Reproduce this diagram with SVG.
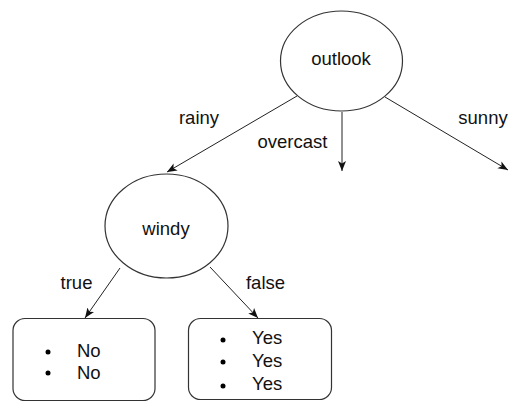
<svg xmlns="http://www.w3.org/2000/svg" width="509" height="402" viewBox="0 0 509 402">
<style>
.n{fill:#fff;stroke:#333;stroke-width:1.2}
.e{fill:none;stroke:#222;stroke-width:1}
text{font-family:"Liberation Sans",Arial,sans-serif;font-size:18.5px;fill:#111}
.c{text-anchor:middle}
.b{fill:#000}
</style>
<defs>
<marker id="ah" viewBox="0 0 10 10" refX="10" refY="5" markerWidth="10" markerHeight="10" markerUnits="userSpaceOnUse" orient="auto">
<path d="M0,1 L10,5 L0,9 L2.5,5 Z" fill="#111"/>
</marker>
</defs>
<g id="connectors">
<line class="e" x1="297" y1="96" x2="167" y2="172" marker-end="url(#ah)"/>
<line class="e" x1="342" y1="112" x2="342" y2="171" marker-end="url(#ah)"/>
<line class="e" x1="385" y1="97" x2="508" y2="170" marker-end="url(#ah)"/>
<line class="e" x1="120" y1="268" x2="85" y2="318" marker-end="url(#ah)"/>
<line class="e" x1="210" y1="267" x2="258" y2="318" marker-end="url(#ah)"/>
<text class="c" x="199" y="124">rainy</text>
<text class="c" x="292.5" y="148">overcast</text>
<text class="c" x="483" y="124">sunny</text>
<text class="c" x="76.5" y="289">true</text>
<text class="c" x="265.5" y="289">false</text>
</g>
<g id="outlook">
<ellipse class="n" cx="341.5" cy="61" rx="61" ry="50"/>
<text class="c" x="341" y="65">outlook</text>
</g>
<g id="windy">
<ellipse class="n" cx="166.5" cy="226" rx="61.5" ry="52"/>
<text class="c" x="166" y="235">windy</text>
</g>
<g id="leaf-no">
<rect class="n" x="13" y="318.5" width="142" height="82" rx="12"/>
<circle class="b" cx="48" cy="352" r="2.5"/>
<circle class="b" cx="48" cy="373" r="2.5"/>
<text x="77" y="357">No</text>
<text x="77" y="379">No</text>
</g>
<g id="leaf-yes">
<rect class="n" x="188.5" y="318.5" width="143" height="81" rx="12"/>
<circle class="b" cx="223" cy="340" r="2.5"/>
<circle class="b" cx="223" cy="362" r="2.5"/>
<circle class="b" cx="223" cy="386" r="2.5"/>
<text x="252" y="344">Yes</text>
<text x="252" y="367">Yes</text>
<text x="252" y="390">Yes</text>
</g>
</svg>
